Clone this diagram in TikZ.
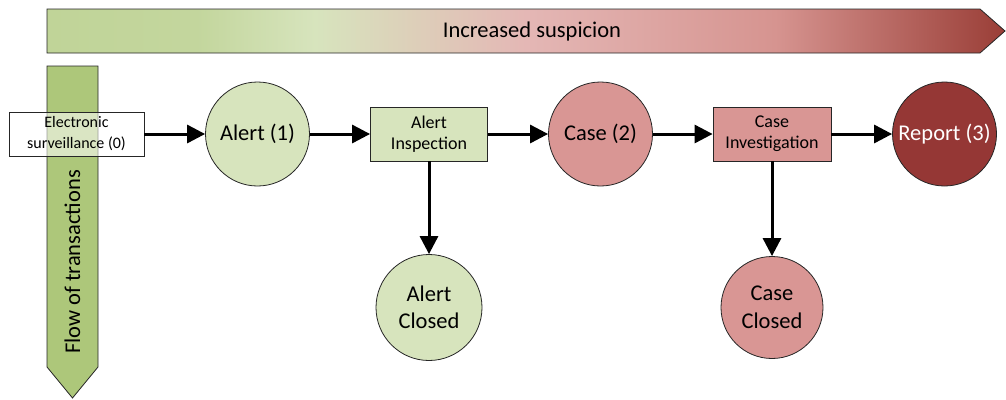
\documentclass[tikz,border=0pt]{standalone}
\usepackage{fontspec}
\setmainfont{Carlito}
\usetikzlibrary{arrows.meta}
\definecolor{gA}{HTML}{C0D498}
\definecolor{gB}{HTML}{D7E4BD}
\definecolor{gC}{HTML}{E4B7B5}
\definecolor{gD}{HTML}{D69490}
\definecolor{gE}{HTML}{9A3E37}
\definecolor{lgreen}{HTML}{D7E4BD}
\definecolor{vgreen}{HTML}{ADC77A}
\definecolor{lred}{HTML}{D99694}
\definecolor{dred}{HTML}{953735}
\pgfdeclarehorizontalshading{susp}{100bp}{color(0bp)=(gA); color(25bp)=(gA); color(33bp)=(gA!85!gB); color(39bp)=(gB); color(50bp)=(gC); color(63bp)=(gD); color(75bp)=(gE); color(100bp)=(gE)}
\tikzset{
  outl/.style={draw=black!85, line width=0.8pt},
  bigtxt/.style={font=\fontsize{22.5}{27.5}\selectfont},
  circ/.style={circle, outl, minimum size=104pt, inner sep=0pt, align=center, bigtxt},
  boxn/.style={rectangle, outl, minimum width=117pt, minimum height=54pt, inner sep=1pt, align=center, font=\fontsize{18}{21}\selectfont},
  conn/.style={line width=3pt, -{Triangle[length=18pt,width=18pt]}}
}
\begin{document}
\begin{tikzpicture}[x=1pt,y=-1pt]
\useasboundingbox (0,0) rectangle (1006,399);
% top gradient arrow
\shade[shading=susp] (47,9) -- (980,9) -- (1005,31) -- (980,53) -- (47,53) -- cycle;
\draw[outl] (47,9) -- (980,9) -- (1005,31) -- (980,53) -- (47,53) -- cycle;
\node[bigtxt] (susp) at (532,31) {Increased suspicion};
% vertical arrow
\draw[outl, fill=vgreen] (47,66) -- (98,66) -- (98,367) -- (72.5,398) -- (47,367) -- cycle;
\node[bigtxt, rotate=90] (flow) at (72.5,262) {Flow of transactions};
% nodes
\node[rectangle, outl, fill=white, fill opacity=0.55, text opacity=1, minimum width=135pt, minimum height=44pt, inner sep=1pt, align=center, font=\fontsize{16}{21}\selectfont] (es) at (76.5,134) {Electronic\\surveillance (0)};
\node[circ, fill=lgreen] (a1) at (257.5,134) {Alert (1)};
\node[boxn, fill=lgreen] (ai) at (429,134) {Alert\\Inspection};
\node[circ, fill=lred] (c2) at (600.5,134) {Case (2)};
\node[boxn, fill=lred, minimum width=118pt] (ci) at (772,134) {Case\\Investigation};
\node[circ, fill=dred, text=white] (r3) at (944.5,134) {Report (3)};
\node[circ, fill=lgreen, minimum size=106pt] (ac) at (429,307.5) {Alert\\Closed};
\node[circ, fill=lred, minimum size=102pt] (cc) at (772,307.5) {Case\\Closed};
% connectors
\draw[conn] (es.east) -- (a1.west);
\draw[conn] (a1.east) -- (ai.west);
\draw[conn] (ai.east) -- (c2.west);
\draw[conn] (c2.east) -- (ci.west);
\draw[conn] (ci.east) -- (r3.west);
\draw[conn] (ai.south) -- (ac.north);
\draw[conn] (ci.south) -- (cc.north);
\end{tikzpicture}
\end{document}
